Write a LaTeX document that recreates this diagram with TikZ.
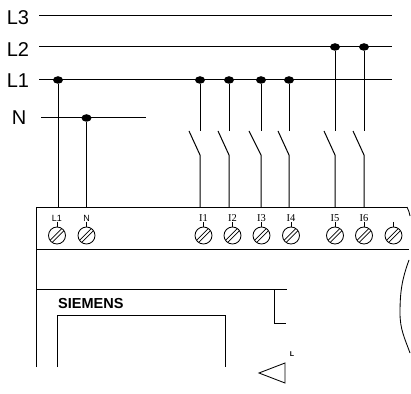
\documentclass[tikz,border=0pt]{standalone}
\usepackage{fontspec}
\setmainfont{Liberation Sans}
\newfontfamily\termfont{Liberation Serif}
\usetikzlibrary{positioning,shapes.geometric}

\begin{document}
\begin{tikzpicture}[x=1pt,y=1pt]
\tikzstyle{wire}=[line width=1pt, black]
\tikzstyle{thin wire}=[line width=0.85pt, black]
\tikzstyle{dot}=[ellipse, fill=black, inner sep=0pt, minimum width=10pt, minimum height=7.5pt]
\tikzstyle{bus}=[font=\fontsize{20}{20}\selectfont, inner sep=0pt]
\tikzstyle{term}=[font=\termfont\fontsize{10.5}{10.5}\selectfont, inner sep=0pt]
\tikzstyle{screw}=[circle, draw=black, line width=0.85pt, minimum size=17pt, inner sep=0pt,
  path picture={
    \draw[line width=0.7pt] ([shift={(-1.1pt,-1.1pt)}]path picture bounding box.center) ++(-8,-8) ++(2.2,0) -- ++(16,16);
    \draw[line width=0.7pt] ([shift={(-1.1pt,-1.1pt)}]path picture bounding box.center) ++(-8,-8) ++(0,2.2) -- ++(16,16);
  }]
\tikzstyle{tick}=[line width=0.6pt]
	\useasboundingbox (0,0) rectangle (411,393);
	% bus bars
	\node[bus] (l3) at (18,375.5) {L3};
	\node[bus] (l2) at (18,343.5) {L2};
	\node[bus] (l1) at (18,312) {L1};
	\node[bus] (n) at (19,275) {N};
	\coordinate (l3a) at (39,377);
	\coordinate (l3b) at (392,377);
	\coordinate (l2a) at (39,346);
	\coordinate (l2b) at (392,346);
	\coordinate (l1a) at (39,313);
	\coordinate (l1b) at (392,313);
	\coordinate (na) at (41,275);
	\coordinate (nb) at (146,275);
	\draw[wire] (l3a) -- (l3b);
	\draw[wire] (l2a) -- (l2b);
	\draw[wire] (l1a) -- (l1b);
	\draw[wire] (na) -- (nb);
	% junctions
	\node[dot] (dl1) at (58,313) {};
	\node[dot] (dn) at (86.5,275) {};
	\node[dot] (di1) at (200,313) {};
	\node[dot] (di2) at (229,313) {};
	\node[dot] (di3) at (261,313) {};
	\node[dot] (di4) at (289,313) {};
	\node[dot] (di5) at (335,346) {};
	\node[dot] (di6) at (364,346) {};
	% module outline
	\coordinate (tl) at (36.5,186);
	\coordinate (tr) at (407,186);
	\coordinate (bl) at (36.5,26);
	\draw[thin wire] (bl) -- (tl) -- (tr);
	% feed wires to the module
	\coordinate (tl1) at (58,186);
	\coordinate (tn) at (86.5,186);
	\draw[wire] (dl1) -- (tl1);
	\draw[wire] (dn) -- (tn);
	% switches
	\coordinate (o1) at (200,262);
	\coordinate (o2) at (229,262);
	\coordinate (o3) at (261,262);
	\coordinate (o4) at (289,262);
	\coordinate (o5) at (335,262);
	\coordinate (o6) at (364,262);
	\coordinate (k1) at (189,262);
	\coordinate (k2) at (218,262);
	\coordinate (k3) at (249,262);
	\coordinate (k4) at (278,262);
	\coordinate (k5) at (324,262);
	\coordinate (k6) at (353,262);
	\coordinate (h1) at (200,238);
	\coordinate (h2) at (229,238);
	\coordinate (h3) at (261,238);
	\coordinate (h4) at (289,238);
	\coordinate (h5) at (335,238);
	\coordinate (h6) at (364,238);
	\coordinate (t1) at (200,186);
	\coordinate (t2) at (229,186);
	\coordinate (t3) at (261,186);
	\coordinate (t4) at (289,186);
	\coordinate (t5) at (335,186);
	\coordinate (t6) at (364,186);
	\draw[wire] (di1) -- (o1);
	\draw[wire] (di2) -- (o2);
	\draw[wire] (di3) -- (o3);
	\draw[wire] (di4) -- (o4);
	\draw[wire] (di5) -- (o5);
	\draw[wire] (di6) -- (o6);
	\draw[wire] (k1) -- (h1) -- (t1);
	\draw[wire] (k2) -- (h2) -- (t2);
	\draw[wire] (k3) -- (h3) -- (t3);
	\draw[wire] (k4) -- (h4) -- (t4);
	\draw[wire] (k5) -- (h5) -- (t5);
	\draw[wire] (k6) -- (h6) -- (t6);
	% terminals
	\node[screw] (sl1) at (57,157.5) {};
	\node[screw] (sn) at (86.5,157.5) {};
	\node[screw] (s1) at (203.5,157.5) {};
	\node[screw] (s2) at (232.5,157.5) {};
	\node[screw] (s3) at (261.5,157.5) {};
	\node[screw] (s4) at (291,157.5) {};
	\node[screw] (s5) at (335,157.5) {};
	\node[screw] (s6) at (364,157.5) {};
	\node[screw] (s7) at (393.5,157.5) {};
	\node[term,font=\fontsize{9}{9}\selectfont] (tll1) [above=5pt of sl1] {L1};
	\node[term,font=\fontsize{9}{9}\selectfont] (tln) [above=5pt of sn] {N};
	\node[term] (ti1) [above=4.5pt of s1] {I1};
	\node[term] (ti2) [above=4.5pt of s2] {I2};
	\node[term] (ti3) [above=4.5pt of s3] {I3};
	\node[term] (ti4) [above=4.5pt of s4] {I4};
	\node[term] (ti5) [above=5pt of s5] {I5};
	\node[term] (ti6) [above=5pt of s6] {I6};
	\coordinate (ts7) at (393.5,171);
	\draw[tick] (tll1) -- (sl1);
	\draw[tick] (tln) -- (sn);
	\draw[tick] (ti1) -- (s1);
	\draw[tick] (ti2) -- (s2);
	\draw[tick] (ti3) -- (s3);
	\draw[tick] (ti4) -- (s4);
	\draw[tick] (ti5) -- (s5);
	\draw[tick] (ti6) -- (s6);
	\draw[tick] (ts7) -- (s7);
	% front panel
	\coordinate (m1) at (36.5,144);
	\coordinate (m2) at (409,144);
	\coordinate (p1) at (36.5,104);
	\coordinate (p2) at (287,104);
	\coordinate (b1) at (274,104);
	\coordinate (b2) at (274,70);
	\coordinate (b3) at (286,70);
	\draw[thin wire] (m1) -- (m2);
	\draw[thin wire] (p1) -- (p2);
	\draw[thin wire] (b1) -- (b2) -- (b3);
	\node[font=\bfseries\fontsize{14.5}{14.5}\selectfont, inner sep=0pt, anchor=south west] (siemens) at (58,84) {SIEMENS};
	\coordinate (d1) at (57,26);
	\coordinate (d2) at (57,78);
	\coordinate (d3) at (225,78);
	\coordinate (d4) at (225,26);
	\draw[thin wire] (d1) -- (d2) -- (d3) -- (d4);
	% arrow key
	\coordinate (a1) at (259,20);
	\coordinate (a2) at (285,30);
	\coordinate (a3) at (285,10);
	\draw[thin wire] (a1) -- (a2) -- (a3) -- cycle;
	\node[font=\bfseries\fontsize{7}{7}\selectfont, inner sep=0pt] (mark) at (292,39) {L};
	% right edge
	\coordinate (r1) at (407,186);
	\coordinate (r2) at (410,177);
	\coordinate (r3) at (409,133);
	\coordinate (r4) at (400,80);
	\coordinate (r5) at (410,40);
	\draw[thin wire] (r1) to[out=-70,in=95] (r2);
	\draw[thin wire] (r3) to[out=-110,in=90] (r4) to[out=-90,in=110] (r5);
\end{tikzpicture}
\end{document}
